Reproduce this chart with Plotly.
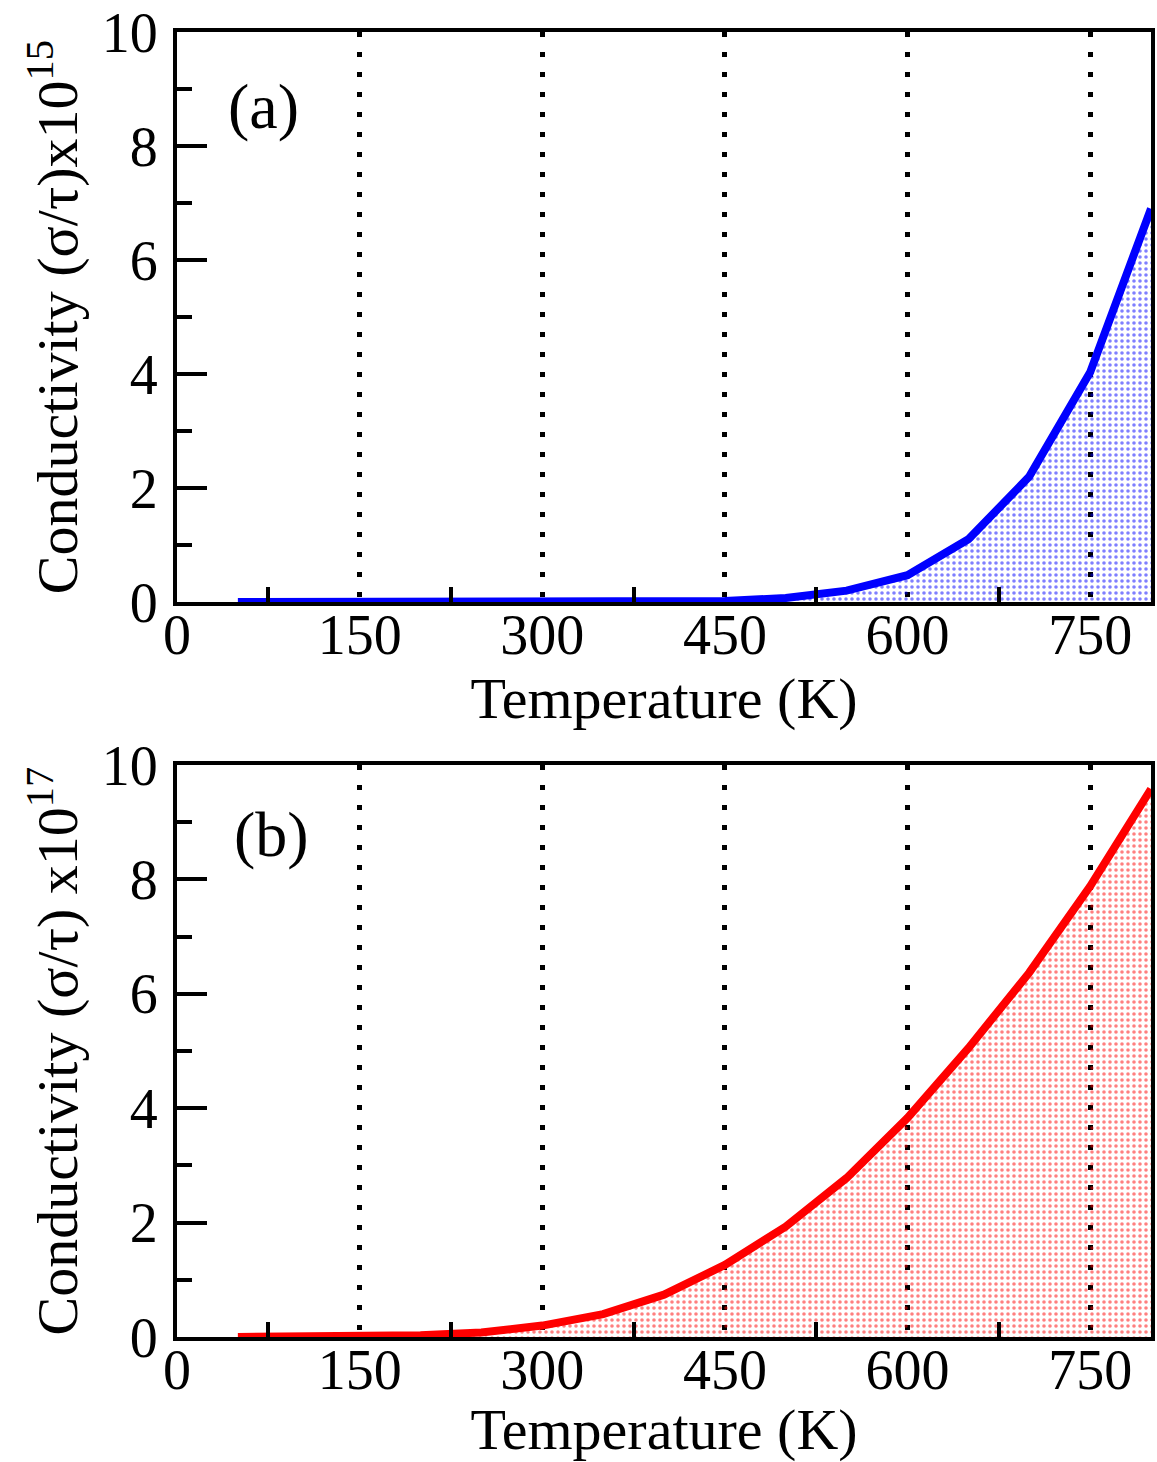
import plotly.graph_objects as go
from plotly.subplots import make_subplots

temperature = [50, 100, 150, 200, 250, 300, 350, 400, 450, 500, 550, 600, 650, 700, 750, 800]
cond_a = [0.0, 0.0, 0.0, 0.0, 0.0, 0.0, 0.0, 0.005, 0.02, 0.07, 0.2, 0.47, 1.1, 2.2, 4.03, 6.9]
cond_b = [0.0, 0.0, 0.01, 0.03, 0.08, 0.2, 0.4, 0.74, 1.26, 1.93, 2.78, 3.83, 5.05, 6.37, 7.88, 9.58]

x_major = [0, 150, 300, 450, 600, 750]
x_minor = [75, 225, 375, 525, 675]
y_major = [0, 2, 4, 6, 8, 10]
y_minor = [1, 3, 5, 7, 9]

FONT = "Liberation Serif, Times New Roman, serif"

fig = make_subplots(rows=2, cols=1, shared_xaxes=False, vertical_spacing=0.1249)

fig.add_trace(go.Scatter(
    x=temperature, y=cond_a, mode="lines",
    line=dict(color="#0000ff", width=8),
    fill="tozeroy", fillcolor="rgba(0,0,0,0)",
    fillpattern=dict(shape=".", fgcolor="#0000ff", bgcolor="rgba(0,0,0,0)", size=6, solidity=0.28),
    showlegend=False), row=1, col=1)

fig.add_trace(go.Scatter(
    x=temperature, y=cond_b, mode="lines",
    line=dict(color="#ff0000", width=8),
    fill="tozeroy", fillcolor="rgba(0,0,0,0)",
    fillpattern=dict(shape=".", fgcolor="#ff0000", bgcolor="rgba(0,0,0,0)", size=6, solidity=0.28),
    showlegend=False), row=2, col=1)

xcommon = dict(
    range=[0, 800], tickmode="array", tickvals=x_major, ticktext=[str(v) for v in x_major],
    ticks="", showline=True, linecolor="black", linewidth=4, mirror=True,
    showgrid=True, gridcolor="black", gridwidth=5, griddash="5px,15px",
    zeroline=False, ticklabelstandoff=-19,
    minor=dict(tickmode="array", tickvals=x_minor, ticks="inside", ticklen=15, tickwidth=4,
               tickcolor="black", showgrid=False),
    tickfont=dict(family=FONT, size=56, color="black"),
    title=dict(text="Temperature (K)", font=dict(family=FONT, size=58, color="black"), standoff=0),
)
ycommon = dict(
    range=[0, 10], tickmode="array", tickvals=y_major, ticktext=[str(v) for v in y_major],
    ticks="inside", ticklen=30, tickwidth=4, tickcolor="black",
    showline=True, linecolor="black", linewidth=4, mirror=True,
    showgrid=False, zeroline=False, ticklabelstandoff=4,
    minor=dict(tickmode="array", tickvals=y_minor, ticks="inside", ticklen=15, tickwidth=4,
               tickcolor="black", showgrid=False),
    tickfont=dict(family=FONT, size=56, color="black"),
)

fig.update_xaxes(**xcommon)
fig.update_yaxes(**ycommon)

fig.update_layout(
    width=1157, height=1462,
    margin=dict(l=177, r=2, t=32, b=125),
    plot_bgcolor="white", paper_bgcolor="white",
    xaxis=dict(domain=[0, 1]),
    xaxis2=dict(domain=[0, 1]),
    yaxis=dict(domain=[0.5632, 1.0],
               title=dict(text="Conductivity (σ/τ)x10<sup>15</sup>", font=dict(family=FONT, size=58, color="black"), standoff=6)),
    yaxis2=dict(domain=[0.0, 0.4383],
                title=dict(text="Conductivity (σ/τ) x10<sup>17</sup>", font=dict(family=FONT, size=58, color="black"), standoff=6)),
    annotations=[
        dict(text="(a)", x=71, y=8.7, xref="x", yref="y", showarrow=False,
             font=dict(family=FONT, size=64, color="black")),
        dict(text="(b)", x=78, y=8.78, xref="x2", yref="y2", showarrow=False,
             font=dict(family=FONT, size=64, color="black")),
    ],
)

fig.write_html("out.html")
